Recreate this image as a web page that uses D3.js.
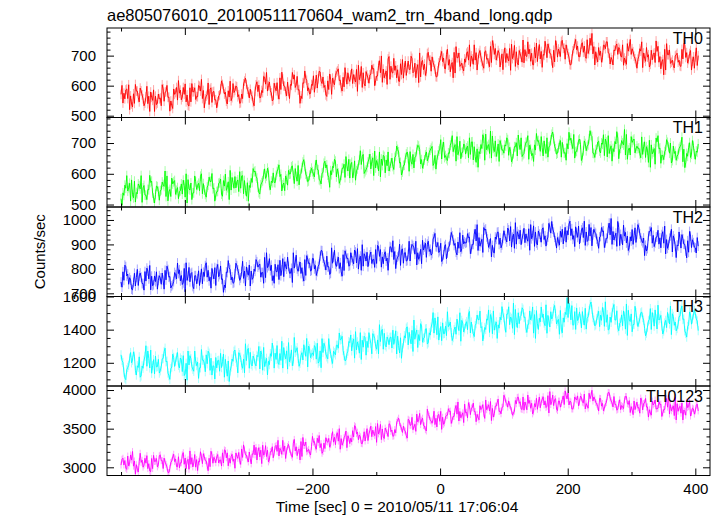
<!DOCTYPE html>
<html><head><meta charset="utf-8">
<script src="https://cdn.jsdelivr.net/npm/d3@7"></script>
<style>body{margin:0;background:#fff}svg{display:block}</style>
</head><body><svg id="c" width="721" height="516"></svg>
<script>
const title = "ae805076010_20100511170604_wam2_trn_4band_long.qdp";
const xLabel = "Time [sec] 0 = 2010/05/11 17:06:04";
const yLabel = "Counts/sec";
const bandNames = ["TH0","TH1","TH2","TH3","TH0123"];
const bandColors = ["#ff0000","#00ff00","#0000ff","#00ffff","#ff00ff"];
// bins: main samples at timeStart + k*timeStep, mid samples half a step later
const timeStart = -500, timeStep = 3;

const th0 = [
571,542,556,589,603,566,529,541,582,560,
592,569,533,563,540,514,561,586,565,542,
556,533,590,578,601,562,549,524,571,594,
617,585,562,571,546,535,593,607,580,554,
563,598,621,584,556,570,537,593,579,552,
526,566,589,604,572,548,583,615,560,577,
599,563,541,572,606,625,588,559,570,544,
581,613,602,561,577,628,644,600,583,549,
608,583,571,626,645,599,580,612,557,601,
622,594,631,587,566,610,649,618,593,574,
601,578,635,623,646,607,594,569,616,639,
571,611,634,649,617,593,628,660,605,622,
636,607,621,654,668,631,594,606,647,625,
636,668,657,616,632,683,699,655,638,604,
697,665,642,651,626,615,673,687,660,634,
682,654,691,647,626,670,709,678,653,634,
707,684,648,678,655,629,676,701,680,657,
704,668,646,677,711,730,693,664,675,649,
678,713,736,699,671,685,652,708,694,667,
713,688,676,731,750,704,685,717,662,706,
706,677,691,724,738,701,664,676,717,695,
752,720,697,706,681,670,728,742,715,689,
661,701,724,739,707,683,718,750,695,712,
747,724,688,718,695,669,716,741,720,697,
711,743,732,691,707,758,774,730,713,679,
701,678,735,723,746,707,694,669,716,739,
727,699,736,692,671,715,754,723,698,679,
688,723,746,709,681,695,662,718,704,677,
714,678,656,687,721,740,703,674,685,659,
703,678,666,721,740,694,675,707,652,696,
696,667];
const th0Mid = [
601,575,586,557,520,539,573,604,582,546,
583,556,542,598,565,579,551,514,537,572,
559,603,548,580,561,515,534,589,577,552,
575,553,594,606,569,532,546,579,593,564,
601,582,557,526,565,609,588,544,581,553,
546,569,616,591,578,539,562,550,607,584,
596,570,543,557,615,604,579,588,565,533,
603,580,559,584,631,605,582,612,576,553,
593,610,555,587,622,598,566,581,604,644,
636,602,585,541,557,608,624,583,572,604,
633,606,592,648,615,629,601,564,587,622,
625,603,644,656,619,582,596,629,643,614,
656,637,612,581,620,664,643,599,636,608,
638,655,600,632,667,643,611,626,649,689,
621,644,691,666,653,614,637,625,682,659,
654,698,643,675,656,610,629,684,672,647,
711,685,696,667,630,649,683,714,692,656,
721,687,670,626,642,693,709,668,657,689,
708,685,664,689,736,710,687,717,681,658,
716,690,663,677,735,724,699,708,685,653,
726,707,682,651,690,734,713,669,706,678,
676,699,746,721,708,669,692,680,737,714,
704,748,693,725,706,660,679,734,722,697,
751,725,736,707,670,689,723,754,732,696,
738,711,697,753,720,734,706,669,692,727,
715,693,734,746,709,672,686,719,733,704,
721,695,668,682,740,729,704,713,690,658,
698,715,660,692,727,703,671,686,709,749,
731,697,680,636,652,703,719,678,667,699,
708,685,664,689,736,710,687,717,681,658,
726,700];

const th1 = [
519,538,563,594,555,511,532,576,539,567,
551,507,562,530,549,595,576,521,533,558,
514,548,565,609,593,542,526,567,578,546,
519,545,534,563,600,581,547,516,538,574,
562,545,600,568,533,557,589,574,551,511,
542,569,583,527,560,546,574,611,588,553,
554,580,607,593,535,546,571,562,585,617,
609,586,539,564,577,616,593,605,548,571,
572,595,616,591,544,570,593,563,599,622,
595,617,576,564,601,638,624,591,577,606,
607,590,645,613,578,602,634,619,596,556,
597,620,641,616,569,595,618,588,624,647,
631,587,642,610,629,675,656,601,613,638,
664,641,594,619,632,671,648,660,603,626,
609,635,624,653,690,671,637,606,628,664,
650,672,631,619,656,693,679,646,632,661,
642,669,683,627,660,646,674,711,688,653,
649,668,693,724,685,641,662,706,669,697,
664,690,717,703,645,656,681,672,695,727,
644,678,695,739,723,672,656,697,708,676,
667,690,711,686,639,665,688,658,694,717,
662,689,703,647,680,666,694,731,708,673,
685,707,666,654,691,728,714,681,667,696,
654,680,669,698,735,716,682,651,673,709,
696,652,707,675,694,740,721,666,678,703,
674,700,727,713,655,666,691,682,705,737,
649,683,700,744,728,677,661,702,713,681,
682,665,720,688,653,677,709,694,671,631,
704,681,634,659,672,711,688,700,643,666,
644,663,688,719,680,636,657,701,664,692,
647,670];
const th1Mid = [
498,530,553,544,569,580,522,508,535,561,
594,554,531,516,548,572,537,505,560,543,
544,573,559,526,512,549,586,574,533,555,
542,567,579,524,505,551,570,538,593,549,
569,592,535,547,524,563,576,601,554,531,
543,571,534,578,599,555,516,547,572,591,
574,542,553,594,578,527,511,555,572,606,
592,557,534,571,599,585,618,562,576,603,
571,607,629,598,564,545,582,611,600,626,
568,591,627,597,620,646,599,574,595,618,
599,628,614,581,567,604,641,629,588,610,
624,647,590,602,579,618,631,656,609,586,
637,602,579,616,644,630,663,607,621,648,
616,652,674,643,609,590,627,656,645,671,
623,651,614,658,679,635,596,627,652,671,
608,640,663,654,679,690,632,618,645,671,
652,677,689,634,615,661,680,648,703,659,
643,666,702,672,695,721,674,649,670,693,
684,652,663,704,688,637,621,665,682,716,
729,689,666,651,683,707,672,640,695,678,
694,717,660,672,649,688,701,726,679,656,
666,702,724,693,659,640,677,706,695,721,
658,681,717,687,710,736,689,664,685,708,
702,667,644,681,709,695,728,672,686,713,
643,675,698,689,714,725,667,653,680,706,
668,696,659,703,724,680,641,672,697,716,
679,708,694,661,647,684,721,709,668,690,
684,652,663,704,688,637,621,665,682,716,
724,684,661,646,678,702,667,635,690,673,
657,682,694,639,620,666,685,653,708,664,
674,697];

const th2 = [
746,788,815,771,737,754,714,782,765,732,
783,740,713,750,791,814,770,735,748,717,
772,737,754,794,811,766,722,736,785,759,
781,751,736,802,825,770,747,785,719,772,
759,732,800,786,813,766,751,721,777,805,
801,768,812,759,734,787,834,797,767,744,
823,796,753,789,761,730,786,816,791,763,
790,829,815,766,785,847,866,813,793,752,
741,789,817,835,796,768,810,848,782,802,
866,828,800,811,781,768,838,854,822,791,
843,800,773,810,851,874,830,795,808,777,
886,848,820,831,801,788,858,874,842,811,
866,833,877,824,799,852,899,862,832,809,
857,822,839,879,896,851,807,821,870,844,
846,888,915,871,837,854,814,882,865,832,
859,832,900,886,913,866,851,821,877,905,
901,871,856,922,945,890,867,905,839,892,
841,889,917,935,896,868,910,948,882,902,
905,944,930,881,900,962,981,928,908,867,
958,931,888,924,896,865,921,951,926,898,
956,923,967,914,889,942,989,952,922,899,
942,907,924,964,981,936,892,906,955,929,
963,920,893,930,971,994,950,915,928,897,
929,902,970,956,983,936,921,891,947,975,
926,968,995,951,917,934,894,962,945,912,
930,969,955,906,925,987,1006,953,933,892,
968,941,898,934,906,875,931,961,936,908,
981,943,915,926,896,883,953,969,937,906,
931,901,886,952,975,920,897,935,869,922,
846,894,922,940,901,873,915,953,887,907,
886,928];
const th2Mid = [
725,753,809,779,764,717,744,730,798,771,
766,740,789,803,759,714,731,771,788,753,
763,783,717,755,797,769,730,748,776,824,
796,773,743,706,753,806,781,728,772,739,
792,764,739,769,825,794,766,802,759,732,
818,777,757,704,723,785,804,755,741,780,
813,780,763,831,791,808,774,730,757,799,
838,807,820,785,741,764,805,842,815,772,
819,788,756,772,842,829,799,810,782,744,
803,856,790,828,805,750,773,839,824,794,
842,814,789,819,875,844,816,852,809,782,
823,876,810,848,825,770,793,859,844,814,
846,820,869,883,839,794,811,851,868,833,
869,838,806,822,892,879,849,860,832,794,
891,868,838,801,848,901,876,823,867,834,
913,882,895,860,816,839,880,917,890,847,
913,880,863,931,891,908,874,830,857,899,
865,893,949,919,904,857,884,870,938,911,
908,928,862,900,942,914,875,893,921,969,
963,922,902,849,868,930,949,900,886,925,
936,910,959,973,929,884,901,941,958,923,
966,943,913,876,923,976,951,898,942,909,
968,935,918,986,946,963,929,885,912,954,
962,934,909,939,995,964,936,972,929,902,
959,928,896,912,982,969,939,950,922,884,
933,953,887,925,967,939,900,918,946,994,
895,923,979,949,934,887,914,900,968,941,
968,927,907,854,873,935,954,905,891,930,
958,927,940,905,861,884,925,962,935,892,
898,951,885,923,900,845,868,934,919,889,
865,893];

const th3 = [
1248,1202,1108,1158,1184,1262,1216,1240,1126,1172,
1113,1181,1215,1303,1271,1169,1137,1219,1241,1177,
1138,1176,1226,1288,1210,1122,1164,1252,1178,1234,
1185,1229,1147,1123,1197,1271,1243,1177,1149,1207,
1204,1170,1280,1216,1146,1194,1258,1228,1182,1102,
1169,1215,1257,1207,1113,1165,1211,1151,1223,1269,
1227,1139,1249,1185,1223,1315,1277,1167,1191,1241,
1193,1245,1299,1271,1155,1177,1227,1209,1255,1319,
1168,1220,1198,1256,1330,1292,1224,1162,1206,1278,
1209,1263,1291,1179,1245,1217,1273,1347,1301,1231,
1260,1304,1222,1198,1272,1346,1318,1252,1224,1282,
1218,1270,1248,1306,1380,1342,1274,1212,1256,1328,
1368,1322,1228,1278,1304,1382,1336,1360,1246,1292,
1342,1254,1364,1300,1338,1430,1392,1282,1306,1356,
1309,1355,1397,1347,1253,1305,1351,1291,1363,1409,
1308,1346,1396,1458,1380,1292,1334,1422,1348,1404,
1313,1381,1415,1503,1471,1369,1337,1419,1441,1377,
1364,1418,1446,1334,1400,1372,1428,1502,1456,1386,
1434,1400,1510,1446,1376,1424,1488,1458,1412,1332,
1413,1465,1519,1491,1375,1397,1447,1429,1475,1539,
1472,1384,1494,1430,1468,1560,1522,1412,1436,1486,
1523,1477,1383,1433,1459,1537,1491,1515,1401,1447,
1474,1440,1550,1486,1416,1464,1528,1498,1452,1372,
1403,1471,1505,1593,1561,1459,1427,1509,1531,1467,
1465,1509,1427,1403,1477,1551,1523,1457,1429,1487,
1418,1456,1506,1568,1490,1402,1444,1532,1458,1514,
1393,1445,1423,1481,1555,1517,1449,1387,1431,1503,
1419,1465,1507,1457,1363,1415,1461,1401,1473,1519,
1404,1458,1486,1374,1440,1412,1468,1542,1496,1426,
1393,1431,1481,1543,1465,1377,1419,1507,1433,1489,
1498,1452];
const th3Mid = [
1214,1144,1098,1172,1228,1200,1266,1154,1182,1236,
1121,1167,1239,1179,1225,1277,1183,1133,1175,1221,
1152,1224,1268,1206,1138,1100,1174,1232,1210,1262,
1169,1219,1243,1133,1095,1187,1225,1161,1271,1183,
1106,1170,1216,1198,1248,1270,1154,1126,1180,1232,
1213,1149,1171,1253,1221,1119,1087,1175,1209,1277,
1203,1261,1233,1167,1139,1213,1287,1263,1181,1225,
1181,1237,1163,1251,1293,1205,1127,1189,1239,1277,
1258,1304,1190,1214,1168,1246,1272,1322,1228,1182,
1353,1273,1227,1197,1261,1309,1239,1175,1285,1251,
1244,1294,1318,1208,1170,1262,1300,1236,1346,1258,
1196,1260,1306,1288,1338,1360,1244,1216,1270,1322,
1272,1344,1388,1326,1258,1220,1294,1352,1330,1382,
1318,1376,1348,1282,1254,1328,1402,1378,1296,1340,
1353,1289,1311,1393,1361,1259,1227,1315,1349,1417,
1384,1314,1268,1342,1398,1370,1436,1324,1352,1406,
1321,1367,1439,1379,1425,1477,1383,1333,1375,1421,
1508,1428,1382,1352,1416,1464,1394,1330,1440,1406,
1448,1494,1380,1404,1358,1436,1462,1512,1418,1372,
1401,1457,1383,1471,1513,1425,1347,1409,1459,1497,
1422,1494,1538,1476,1408,1370,1444,1502,1480,1532,
1473,1409,1431,1513,1481,1379,1347,1435,1469,1537,
1494,1424,1378,1452,1508,1480,1546,1434,1462,1516,
1381,1445,1491,1473,1523,1545,1429,1401,1455,1507,
1411,1457,1529,1469,1515,1567,1473,1423,1465,1511,
1488,1534,1420,1444,1398,1476,1502,1552,1458,1412,
1439,1489,1513,1403,1365,1457,1495,1431,1541,1453,
1443,1501,1473,1407,1379,1453,1527,1503,1421,1465,
1548,1468,1422,1392,1456,1504,1434,1370,1480,1446,
1407,1479,1523,1461,1393,1355,1429,1487,1465,1517,
1464,1394];

const th0123 = [
3029,3118,3088,2973,3018,3160,3205,3082,3034,2939,
3182,3092,3028,3053,2983,2952,3114,3154,3078,3005,
3150,3085,2984,3068,3004,2931,3063,3133,3074,3010,
3137,3058,3162,3039,2980,3103,3212,3125,3055,3002,
2958,3070,3134,3176,3087,3019,3117,3207,3053,3101,
3137,3056,3095,3187,3226,3123,3019,3053,3168,3106,
3186,3116,3083,3237,3290,3161,3108,3198,3044,3167,
3160,3095,3255,3221,3286,3177,3140,3070,3202,3266,
3186,3284,3349,3245,3167,3206,3114,3270,3231,3156,
3313,3212,3151,3238,3333,3386,3282,3201,3232,3159,
3400,3335,3234,3318,3254,3181,3313,3383,3324,3260,
3396,3326,3293,3447,3500,3371,3318,3408,3254,3377,
3376,3474,3539,3435,3357,3396,3304,3460,3421,3346,
3477,3396,3435,3527,3566,3463,3359,3393,3508,3446,
3563,3462,3401,3488,3583,3636,3532,3451,3482,3409,
3622,3543,3647,3524,3465,3588,3697,3610,3540,3487,
3752,3662,3598,3623,3553,3522,3684,3724,3648,3575,
3669,3758,3728,3613,3658,3800,3845,3722,3674,3579,
3705,3640,3800,3766,3831,3722,3685,3615,3747,3811,
3633,3745,3809,3851,3762,3694,3792,3882,3728,3776,
3932,3842,3778,3803,3733,3702,3864,3904,3828,3755,
3910,3845,3744,3828,3764,3691,3823,3893,3834,3770,
3876,3806,3773,3927,3980,3851,3798,3888,3734,3857,
3826,3924,3989,3885,3807,3846,3754,3910,3871,3796,
3922,3843,3947,3824,3765,3888,3997,3910,3840,3787,
3893,3792,3731,3818,3913,3966,3862,3781,3812,3739,
3827,3746,3785,3877,3916,3813,3709,3743,3858,3796,
3765,3700,3860,3826,3891,3782,3745,3675,3807,3871,
3759,3848,3818,3703,3748,3890,3935,3812,3764,3669,
3613,3725,3789,3831,3742,3674,3772,3862,3708,3756,
3729,3818];
const th0123Mid = [
3104,3029,2990,3146,3054,3093,3015,2911,2976,3074,
3064,3002,3117,3151,3047,2944,2983,3075,3114,3033,
3161,3088,3119,3038,2934,2987,3082,3169,3108,3007,
2994,3058,3190,3120,3083,2974,3039,3005,3165,3100,
3078,3201,3047,3137,3084,2955,3008,3162,3129,3059,
3165,3092,3016,3056,3218,3187,3117,3142,3078,2988,
3144,3192,3038,3128,3226,3158,3069,3111,3175,3287,
3258,3205,3135,3048,3157,3280,3221,3098,3202,3123,
3270,3206,3147,3217,3349,3276,3212,3296,3195,3130,
3361,3266,3218,3095,3140,3282,3327,3212,3182,3271,
3324,3262,3377,3411,3307,3204,3243,3335,3374,3293,
3461,3388,3419,3338,3234,3287,3382,3469,3408,3307,
3329,3393,3525,3455,3418,3309,3374,3340,3500,3435,
3533,3480,3410,3323,3432,3555,3496,3373,3477,3398,
3555,3482,3406,3446,3608,3577,3507,3532,3468,3378,
3610,3546,3487,3557,3689,3616,3552,3636,3535,3470,
3684,3609,3570,3726,3634,3673,3595,3491,3556,3654,
3674,3722,3568,3658,3756,3688,3599,3641,3705,3817,
3713,3836,3682,3772,3719,3590,3643,3797,3764,3694,
3871,3776,3728,3605,3650,3792,3837,3722,3692,3781,
3901,3828,3859,3778,3674,3727,3822,3909,3848,3747,
3739,3803,3935,3865,3828,3719,3784,3750,3910,3845,
3913,3860,3790,3703,3812,3935,3876,3753,3857,3778,
3874,3812,3927,3961,3857,3754,3793,3885,3924,3843,
3905,3832,3756,3796,3958,3927,3857,3882,3818,3728,
3890,3826,3767,3837,3969,3896,3832,3916,3815,3750,
3874,3799,3760,3916,3824,3863,3785,3681,3746,3844,
3773,3896,3742,3832,3779,3650,3703,3857,3824,3754,
3764,3812,3658,3748,3846,3778,3689,3731,3795,3907,
3823,3770,3700,3613,3722,3845,3786,3663,3767,3688,
3804,3729];

const errors = [16, 16, 20, 28, 45];
const xDomain = [-522, 423];
const xMajor = [-400, -200, 0, 200, 400];
const xMinor = [-500, -300, -100, 100, 300];
const yDomains = [[494,792],[492,783],[687,1053],[1060,1600],[2894,4052]];
const yMajor = [[500,600,700],[500,600,700],[700,800,900,1000],[1200,1400,1600],[3000,3500,4000]];
const yMinorStep = [20, 20, 20, 50, 100];

const FONT = '"Liberation Sans", Arial, Helvetica, sans-serif';
const L = 107, R = 710, T = 28, PH = 89.5;
const svg = d3.select("#c");
const x = d3.scaleLinear().domain(xDomain).range([L, R]);
const mainSeries = [th0, th1, th2, th3, th0123];
const midSeries = [th0Mid, th1Mid, th2Mid, th3Mid, th0123Mid];

function styleAxis(g, size) {
  g.select(".domain").remove();
  g.selectAll("line").attr("stroke", "#000").attr("stroke-width", 1);
  g.selectAll("text").attr("font-family", FONT).attr("font-size", size).attr("fill", "#000");
}

mainSeries.forEach((mainVals, p) => {
  const pts = mainVals.map((v, i) => ({ t: timeStart + i * timeStep, v }))
    .concat(midSeries[p].map((v, i) => ({ t: timeStart + timeStep / 2 + i * timeStep, v })))
    .sort((a, b) => a.t - b.t);
  const top = T + p * PH, bot = top + PH;
  const y = d3.scaleLinear().domain(yDomains[p]).range([bot, top]);
  const g = svg.append("g");
  const cid = "clip" + p;
  svg.append("clipPath").attr("id", cid).append("rect")
    .attr("x", L).attr("y", top).attr("width", R - L).attr("height", PH);
  const dg = g.append("g").attr("clip-path", `url(#${cid})`);
  dg.selectAll("line").data(pts).join("line")
    .attr("x1", d => x(d.t)).attr("x2", d => x(d.t))
    .attr("y1", d => y(d.v - errors[p])).attr("y2", d => y(d.v + errors[p]))
    .attr("stroke", bandColors[p]).attr("stroke-opacity", 0.35).attr("stroke-width", 1);
  dg.append("path").datum(pts)
    .attr("d", d3.line().x(d => x(d.t)).y(d => y(d.v)))
    .attr("fill", "none").attr("stroke", bandColors[p]).attr("stroke-width", 0.9);

  const yd = yDomains[p];
  const minors = d3.range(Math.ceil(yd[0] / yMinorStep[p]) * yMinorStep[p], yd[1] + 0.01, yMinorStep[p])
    .filter(v => !yMajor[p].includes(v));
  g.append("g").attr("transform", `translate(${L},0)`)
    .call(d3.axisLeft(y).tickValues(yMajor[p]).tickSizeInner(-7).tickSizeOuter(0).tickPadding(11).tickFormat(d3.format("d")))
    .call(a => styleAxis(a, 15));
  g.append("g").attr("transform", `translate(${L},0)`)
    .call(d3.axisLeft(y).tickValues(minors).tickSizeInner(-3.5).tickSizeOuter(0).tickFormat(""))
    .call(a => styleAxis(a, 15));
  g.append("g").attr("transform", `translate(${R},0)`)
    .call(d3.axisRight(y).tickValues(yMajor[p]).tickSizeInner(-7).tickSizeOuter(0).tickFormat(""))
    .call(a => styleAxis(a, 15));
  g.append("g").attr("transform", `translate(${R},0)`)
    .call(d3.axisRight(y).tickValues(minors).tickSizeInner(-3.5).tickSizeOuter(0).tickFormat(""))
    .call(a => styleAxis(a, 15));
  g.append("g").attr("transform", `translate(0,${top})`)
    .call(d3.axisTop(x).tickValues(xMajor).tickSizeInner(-7).tickSizeOuter(0).tickFormat(""))
    .call(a => styleAxis(a, 15));
  g.append("g").attr("transform", `translate(0,${top})`)
    .call(d3.axisTop(x).tickValues(xMinor).tickSizeInner(-3.5).tickSizeOuter(0).tickFormat(""))
    .call(a => styleAxis(a, 15));
  const isLast = p === mainSeries.length - 1;
  g.append("g").attr("transform", `translate(0,${bot})`)
    .call(d3.axisBottom(x).tickValues(xMajor).tickSizeInner(-7).tickSizeOuter(0).tickPadding(8)
      .tickFormat(isLast ? (d => d < 0 ? "\u2212" + Math.abs(d) : String(d)) : ""))
    .call(a => styleAxis(a, 15));
  g.append("g").attr("transform", `translate(0,${bot})`)
    .call(d3.axisBottom(x).tickValues(xMinor).tickSizeInner(-3.5).tickSizeOuter(0).tickFormat(""))
    .call(a => styleAxis(a, 15));

  g.append("rect").attr("x", L).attr("y", top).attr("width", R - L).attr("height", PH)
    .attr("fill", "none").attr("stroke", "#000").attr("stroke-width", 1);

  g.append("text").attr("x", 703).attr("y", top + 15.5).attr("text-anchor", "end")
    .attr("font-family", FONT).attr("font-size", 16).attr("fill", "#000").text(bandNames[p]);
});

svg.append("text").attr("x", L).attr("y", 20.5).attr("font-family", FONT).attr("font-size", 16.5)
  .attr("fill", "#000").text(title);
svg.append("text").attr("x", 397).attr("y", 512).attr("text-anchor", "middle")
  .attr("font-family", FONT).attr("font-size", 15.5).attr("fill", "#000").text(xLabel);
svg.append("text").attr("transform", `translate(45,${T + 2.5 * PH}) rotate(-90)`).attr("text-anchor", "middle")
  .attr("font-family", FONT).attr("font-size", 15).attr("fill", "#000").text(yLabel);
</script>
</body></html>
